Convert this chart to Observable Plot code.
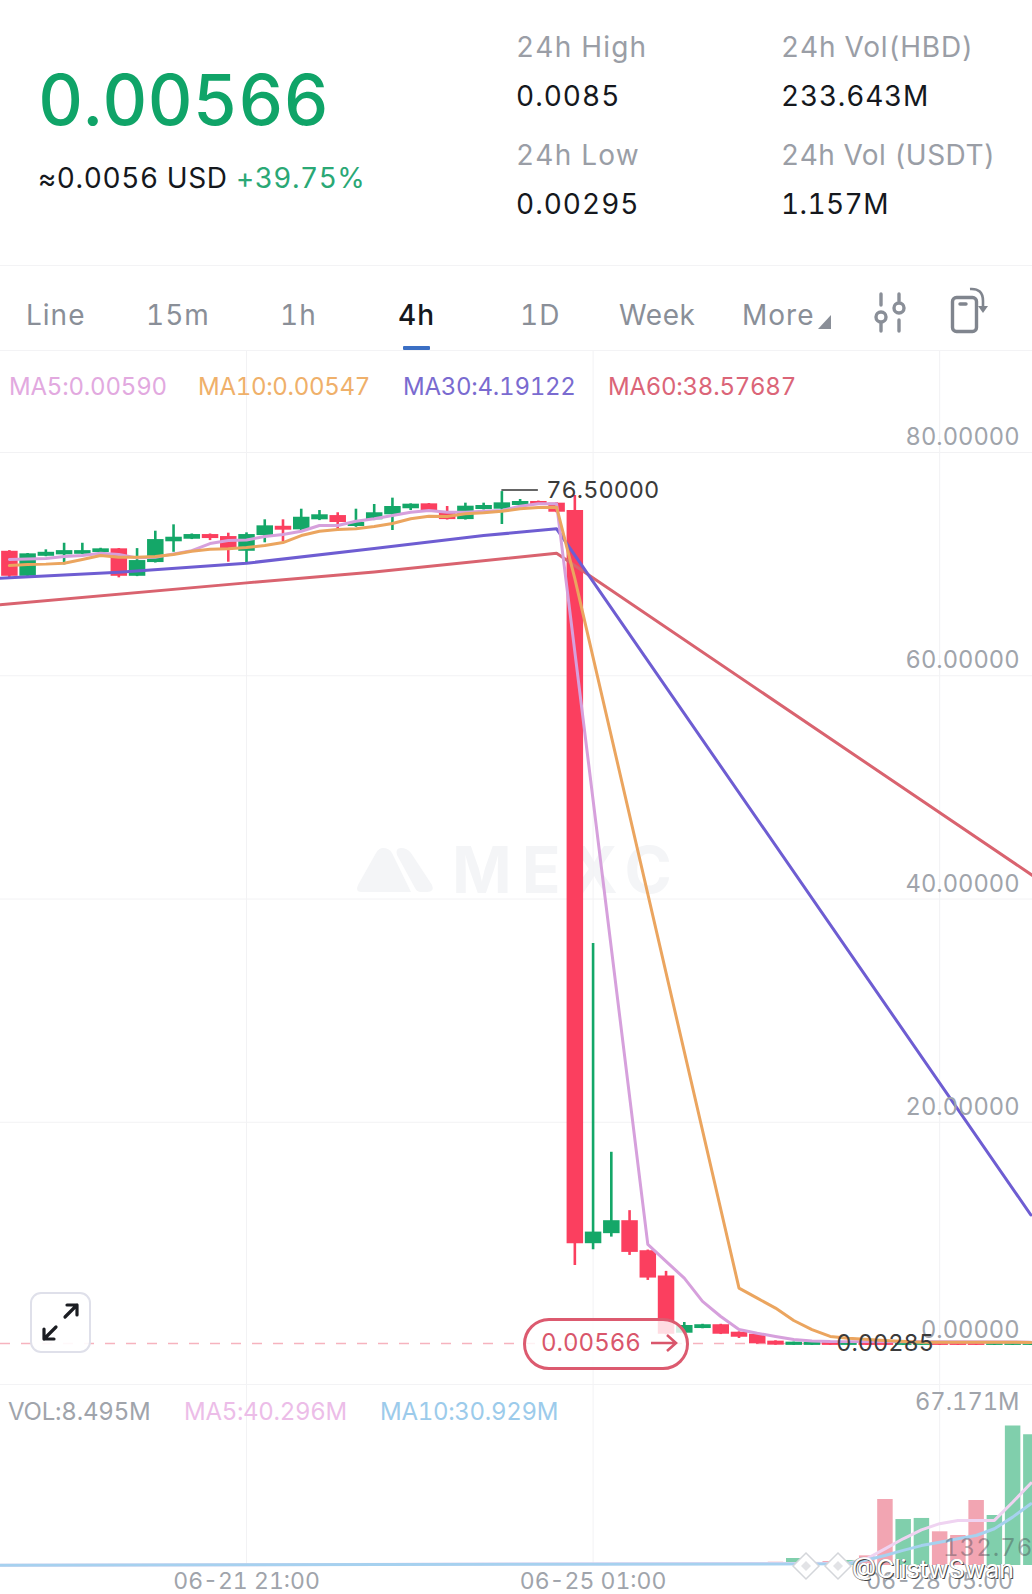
<!DOCTYPE html>
<html><head><meta charset="utf-8">
<script src="https://cdn.jsdelivr.net/npm/d3@7"></script>
<script src="https://cdn.jsdelivr.net/npm/@observablehq/plot@0.6"></script>
<style>
html,body{margin:0;padding:0;background:#fff}
#page{position:relative;width:1032px;height:1594px;overflow:hidden;background:#fff;font-family:Inter,"Noto Sans",sans-serif;font-variant-numeric:tabular-nums}
.t{position:absolute;white-space:nowrap;transform:translateY(-50%);line-height:1}
.abs{position:absolute;display:block}
.rule{position:absolute;left:0;width:1032px;height:1px;background:#f3f3f5}
</style></head><body><div id="page"></div>
<script>
// ---------- data ----------
const firstIndex = -13;                 // candle index relative to 06-21 21:00, 4h apart
const opens  = [71.15,68.91,70.70,70.83,70.88,71.04,71.37,68.91,70.14,72.00,72.23,72.65,72.47,71.15,72.56,73.39,73.07,73.97,74.35,73.37,73.97,74.42,74.96,75.40,74.71,73.99,74.89,74.92,75.25,75.61,75.46,74.80,9.12,10.02,11.18,8.49,6.22,1.10,1.52,1.86,1.19,1.01,0.39,0.01,0.01,0.30,0.01,0.30,0.30,0.01,0.01,0.30,0.30,0.30,0.01,0.01,0.01];
const closes = [68.91,70.92,71.06,71.21,71.21,71.37,68.91,70.32,72.20,72.41,72.65,72.29,71.37,72.65,73.43,73.04,74.20,74.42,73.73,73.73,74.60,75.16,75.37,74.78,73.99,75.19,75.25,75.49,75.61,75.28,74.65,9.12,10.16,11.18,8.34,6.04,1.01,1.79,1.86,1.01,0.74,0.15,0.03,0.30,0.30,0.01,0.30,0.01,0.01,0.30,0.30,0.01,0.01,0.01,0.30,0.30,0.30];
const highs  = [71.21,70.95,71.28,71.87,71.87,71.42,71.40,71.39,72.95,73.52,72.70,72.70,72.77,72.80,73.97,73.97,74.92,74.80,74.60,74.92,75.34,75.91,75.40,75.43,75.16,75.46,75.46,76.50,75.79,75.65,75.50,76.15,36.01,17.31,12.08,8.55,6.64,2.06,1.90,1.90,1.22,1.05,0.42,0.30,0.30,0.30,0.30,0.30,0.30,0.30,0.30,0.30,0.30,0.30,0.30,0.30,0.30];
const lows   = [68.79,68.85,70.66,69.93,70.85,71.00,68.77,68.88,70.10,71.06,72.20,72.11,70.17,70.08,71.91,72.02,73.00,73.90,73.10,73.30,73.90,73.01,74.80,74.75,73.95,73.95,74.85,73.55,75.20,75.25,74.60,7.17,8.58,9.71,8.07,5.83,0.95,1.05,1.50,0.98,0.63,0.12,0.02,0.01,0.01,0.01,0.01,0.01,0.01,0.01,0.01,0.01,0.01,0.01,0.01,0.01,0.01];
const volumes= [0.1,0.1,0.1,0.1,0.1,0.1,0.1,0.1,0.1,0.1,0.1,0.1,0.1,0.1,0.1,0.1,0.1,0.1,0.1,0.1,0.1,0.1,0.1,0.1,0.1,0.1,0.1,0.1,0.1,0.1,0.1,0.3,0.3,0.3,0.3,0.3,0.4,0.4,0.4,0.5,0.8,1.1,1.5,3.2,1.4,1.8,2.3,4.4,30.2,21.0,21.5,15.4,13.7,29.7,22.85,63.8,59.7];

const ma5Index  = [-13,-12,-11,-10,-9,-8,-7,-6,-5,-4,-3,-2,-1,0,1,2,3,4,5,6,7,8,9,10,11,12,13,14,15,16,17,22,23,24,25,26,27,28,29,30,31,32,43];
const ma5Values = [70.41,70.45,70.50,70.68,70.77,70.97,70.86,70.56,70.61,70.92,71.21,71.84,72.11,72.17,72.47,72.65,72.95,73.46,73.46,73.84,74.06,74.35,74.65,74.80,74.65,74.65,74.74,74.80,75.19,75.40,75.40,9.06,7.53,6.04,3.95,2.60,1.43,1.10,0.81,0.54,0.40,0.35,0.30];
const ma10Index = [-13,-12,-11,-10,-9,-8,-7,-6,-5,-4,-3,-2,-1,0,1,2,3,4,5,6,7,8,9,10,11,12,13,14,15,16,17,18,27,28,29,30,31,32,33,35,37,43];
const ma10Values= [69.87,69.96,70.00,70.08,70.41,70.77,70.61,70.61,70.68,70.86,71.15,71.33,71.37,71.48,71.66,71.93,72.56,72.95,73.10,73.16,73.37,73.64,74.06,74.29,74.27,74.51,74.60,74.74,74.96,75.07,75.10,68.70,5.14,4.24,3.35,2.24,1.43,0.81,0.65,0.45,0.30,0.28];
const ma30Index = [-14,-7,0,7,13,17,43];
const ma30Values= [68.70,69.27,70.08,71.39,72.56,73.16,11.70];
const ma60Index = [-14,0,7,17,44];
const ma60Values= [66.30,68.32,69.30,70.97,41.10];

const volMa5Index  = [-14,33,34,35,36,37,38,39,40,41,42,43];
const volMa5Values = [0.1,1.0,3.06,7.6,12.2,16.3,19.1,20.6,20.6,20.6,28.9,37.6];
const volMa10Index = [-14,33,34,35,36,37,38,39,40,41,42,43];
const volMa10Values= [0.1,0.8,2.5,4.6,6.9,9.1,10.6,12.2,13.7,16.8,22.1,28.2];

const priceTicks = [0,20,40,60,80];
const timeTickIndex = [0,19,38];
const volTop = 67.171;
const lastPrice = 0.00566, highPrice = 76.5, lowPrice = 0.00285;

const headerLabels = [
 ["0.00566",38,100,70,"#10a468","0px",500],
 ["≈0.0056 USD",38,178,28,"#15181d","0.6px",400],
 ["+39.75%",236,178,28,"#2aa875","0.5px",400],
 ["24h High",516,47,28,"#9a9ea6","1.2px",400],
 ["0.0085",516,96,28,"#15181d","1px",400],
 ["24h Low",516,155,28,"#9a9ea6","1.2px",400],
 ["0.00295",516,204,28,"#15181d","1px",400],
 ["24h Vol(HBD)",781,47,28,"#9a9ea6","0.8px",400],
 ["233.643M",781,96,28,"#15181d","0.8px",400],
 ["24h Vol (USDT)",781,155,28,"#9a9ea6","0.5px",400],
 ["1.157M",781,204,28,"#15181d","0.4px",400],
 ["Line",26,315,28,"#8a8f98","1px",400],
 ["15m",146,315,28,"#8a8f98","1px",400],
 ["1h",280,315,28,"#8a8f98","1px",400],
 ["4h",398,315,28,"#15181d","1px",500],
 ["1D",520,315,28,"#8a8f98","1px",400],
 ["Week",619,315,28,"#8a8f98","0.6px",400],
 ["More",742,315,28,"#8a8f98","1px",400],
 ["MA5:0.00590",9,387,24,"#e2a9df","-0.2px",400],
 ["MA10:0.00547",198,387,24,"#efb06a","-0.3px",400],
 ["MA30:4.19122",403,387,24,"#7a6bd0","-0.25px",400],
 ["MA60:38.57687",608,387,24,"#db6578","-0.25px",400],
 ["VOL:8.495M",8,1412,24,"#a0a4ab","-0.2px",400],
 ["MA5:40.296M",184,1412,24,"#ecbde8","-0.3px",400],
 ["MA10:30.929M",380,1412,24,"#9ccbeb","-0.3px",400]
];

// ---------- helpers ----------
const HOUR = 3600e3, T0 = Date.UTC(2024,5,21,21);
const when = k => new Date(T0 + k*4*HOUR);
const xDomain = [when(-13.487), when(43.09)];
const GREEN="#14a768", RED="#fb3f5f", VGREEN="#80cfac", VRED="#f2a5b2", GRID="#f2f2f4", AXIS="#a0a4ab";
const candles = opens.map((o,i)=>({t:when(firstIndex+i),o,c:closes[i],h:highs[i],l:lows[i],v:volumes[i],up:closes[i]>=o}));
const series = (idx,vals)=>idx.map((k,i)=>({t:when(k),v:vals[i]}));
const page = document.getElementById("page");
const add = html => page.insertAdjacentHTML("beforeend",html);

// watermark lies under the chart
add(`<svg class="abs" style="left:355px;top:845px" width="82" height="50" viewBox="0 0 82 50"><path d="M28 3Q34 3 37 8L56 47H6Q0 47 3 40L21 8Q24 3 28 3Z" fill="#f4f5f7"/><path d="M46 3Q52 3 56 8L77 40Q80 47 72 47H66Q62 47 60 43L42 10Q40 3 46 3Z" fill="#f4f5f7"/></svg>`);
add(`<div class="t" style="left:452px;top:870px;font-size:64px;font-weight:700;letter-spacing:10px;color:#f4f5f7">MEXC</div>`);

// ---------- main chart ----------
const main = Plot.plot({
  width:1032, height:1034, margin:0,
  style:{position:"absolute",left:"0",top:"350px",background:"transparent",fontFamily:"Inter,sans-serif"},
  x:{type:"utc",domain:xDomain,range:[0,1032],label:null,axis:null},
  y:{domain:[0,80],range:[995,102],label:null},
  marks:[
    Plot.gridX(timeTickIndex.map(when),{stroke:GRID,strokeOpacity:1,strokeWidth:1}),
    Plot.gridY(priceTicks.slice(1),{stroke:GRID,strokeOpacity:1,strokeWidth:1}),
    Plot.ruleY([lastPrice],{stroke:"#f6b3be",strokeWidth:1.5,strokeDasharray:"10,11",dy:-2}),
    Plot.ruleX(candles,{x:"t",y1:"l",y2:"h",stroke:d=>d.up?GREEN:RED,strokeWidth:2.6}),
    Plot.ruleX(candles,{x:"t",y1:"o",y2:"c",stroke:d=>d.up?GREEN:RED,strokeWidth:16.5}),
    Plot.line(series(ma60Index,ma60Values),{x:"t",y:"v",stroke:"#d9636f",strokeWidth:3,strokeLinejoin:"round"}),
    Plot.line(series(ma30Index,ma30Values),{x:"t",y:"v",stroke:"#6e5dd2",strokeWidth:3,strokeLinejoin:"round"}),
    Plot.line(series(ma5Index,ma5Values),{x:"t",y:"v",stroke:"#d6a0dc",strokeWidth:3,strokeLinejoin:"round"}),
    Plot.line(series(ma10Index,ma10Values),{x:"t",y:"v",stroke:"#eba55f",strokeWidth:3,strokeLinejoin:"round"}),
    Plot.axisY({anchor:"right",ticks:priceTicks,tickSize:0,tickPadding:0,dx:-13,dy:-15,textAnchor:"end",tickFormat:d3.format(".5f"),fontSize:23.7,fill:AXIS,label:null}),
    Plot.ruleY([highPrice],{x1:when(14),x2:when(16),stroke:"#333",strokeWidth:1.6,dy:-1.5}),
    Plot.text([highPrice],{x:when(16),y:d=>d,text:d=>d3.format(".5f")(d),textAnchor:"start",dx:8,dy:-1,fontSize:23.5,fill:"#3a3a3a"}),
    Plot.text([lowPrice],{x:when(32),y:d=>d,text:d=>d3.format(".5f")(d),textAnchor:"start",dx:6,dy:-2,fontSize:23.5,fill:"#3a3a3a"})
  ]
});
page.appendChild(main);

// ---------- volume chart ----------
const vol = Plot.plot({
  width:1032, height:210, marginTop:0, marginLeft:0, marginRight:0, marginBottom:29,
  style:{position:"absolute",left:"0",top:"1384px",background:"transparent",fontFamily:"Inter,sans-serif"},
  x:{type:"utc",domain:xDomain,range:[0,1032],label:null},
  y:{domain:[0,volTop],range:[181,34],label:null,axis:null},
  marks:[
    Plot.gridX(timeTickIndex.map(when),{stroke:GRID,strokeOpacity:1,strokeWidth:1}),
    Plot.ruleX(candles,{x:"t",y1:0,y2:"v",stroke:d=>d.up?VGREEN:VRED,strokeWidth:15.5}),
    Plot.line(series(volMa5Index,volMa5Values),{x:"t",y:"v",stroke:"#efd3f1",strokeWidth:3}),
    Plot.line(series(volMa10Index,volMa10Values),{x:"t",y:"v",stroke:"#a6d1ef",strokeWidth:3}),
    Plot.axisX({ticks:timeTickIndex.map(when),tickFormat:d3.utcFormat("%m-%d %H:%M"),tickSize:0,tickPadding:7,fontSize:23,fill:AXIS,label:null}),
    Plot.text([volTop],{y:d=>d,frameAnchor:"right",text:d=>d3.format(".3f")(d)+"M",textAnchor:"end",dx:-13,dy:-16,fontSize:23.7,fill:AXIS})
  ]
});
page.appendChild(vol);

// ---------- page furniture ----------
add(`<div class="rule" style="top:265px"></div><div class="rule" style="top:350px"></div><div class="rule" style="top:1384px"></div>`);
headerLabels.forEach(([s,x,y,size,color,ls,w])=>add(`<div class="t" style="left:${x}px;top:${y}px;font-size:${size}px;color:${color};letter-spacing:${ls};font-weight:${w}">${s}</div>`));
add(`<div class="abs" style="left:403px;top:346px;width:27px;height:4px;border-radius:1px;background:#3b6fc4"></div>`);
add(`<svg class="abs" style="left:816px;top:313px" width="18" height="18"><path d="M2 16h13V2z" fill="#8a8f98"/></svg>`);
add(`<svg class="abs" style="left:870px;top:285px" width="125" height="52" viewBox="870 285 125 52"><g fill="none" stroke="#8a8f98" stroke-width="3.4" stroke-linecap="round"><path d="M881 294v11M881 323v8M899 294v7M899 320v11"/><circle cx="881" cy="317" r="5"/><circle cx="899" cy="308" r="5"/></g><g fill="none" stroke="#80858e" stroke-width="3.4" stroke-linejoin="round"><rect x="952.5" y="297.5" width="24" height="34" rx="4"/><path d="M960 304h6" stroke-linecap="round"/><path d="M970 289q13-1 13 12v8" stroke-width="2.6"/></g><path d="M978 306h10l-5 7z" fill="#80858e"/></svg>`);
add(`<div class="abs" style="left:30px;top:1292px;width:57px;height:57px;border:2px solid #dfe0ea;border-radius:11px;background:rgba(255,255,255,.9)"></div>`);
add(`<svg class="abs" style="left:36px;top:1298px" width="48" height="48" viewBox="36 1298 48 48"><g fill="none" stroke="#1b1d22" stroke-width="3.2" stroke-linecap="round" stroke-linejoin="round"><path d="M65 1317l12-12M67 1305h10v10M56 1327l-12 12M44 1329v10h10"/></g></svg>`);
add(`<div class="abs" style="left:523px;top:1318px;width:160px;height:46px;border:3px solid #dc5a6f;border-radius:26px;background:rgba(255,255,255,.82)"></div>`);
add(`<div class="t" style="left:541px;top:1343px;font-size:24px;color:#d9566b">0.00566</div>`);
add(`<svg class="abs" style="left:648px;top:1332px" width="32" height="22"><path d="M3 11h25M19 3l9 8-9 8" fill="none" stroke="#d9566b" stroke-width="2.6"/></svg>`);
// repost marks
add(`<div class="t" style="left:943px;top:1548px;font-size:24px;letter-spacing:1px;color:rgba(60,60,70,.38)">132.76</div>`);
add(`<svg class="abs" style="left:790px;top:1550px" width="64" height="32"><g fill="#fff" stroke="#d4d6da" stroke-width="1.5"><path d="M16 3l13 13-13 13L3 16z"/><path d="M48 3l13 13-13 13-13-13z"/></g><g fill="#e2e3e6"><path d="M16 11l5 5-5 5-5-5z"/><path d="M48 11l5 5-5 5-5-5z"/></g></svg>`);
add(`<div class="t" style="left:852px;top:1569px;font-size:25px;color:#fff;text-shadow:1px 1px 0 #444,-1px 0 0 #999">@ClistwSwan</div>`);
</script></body></html>
